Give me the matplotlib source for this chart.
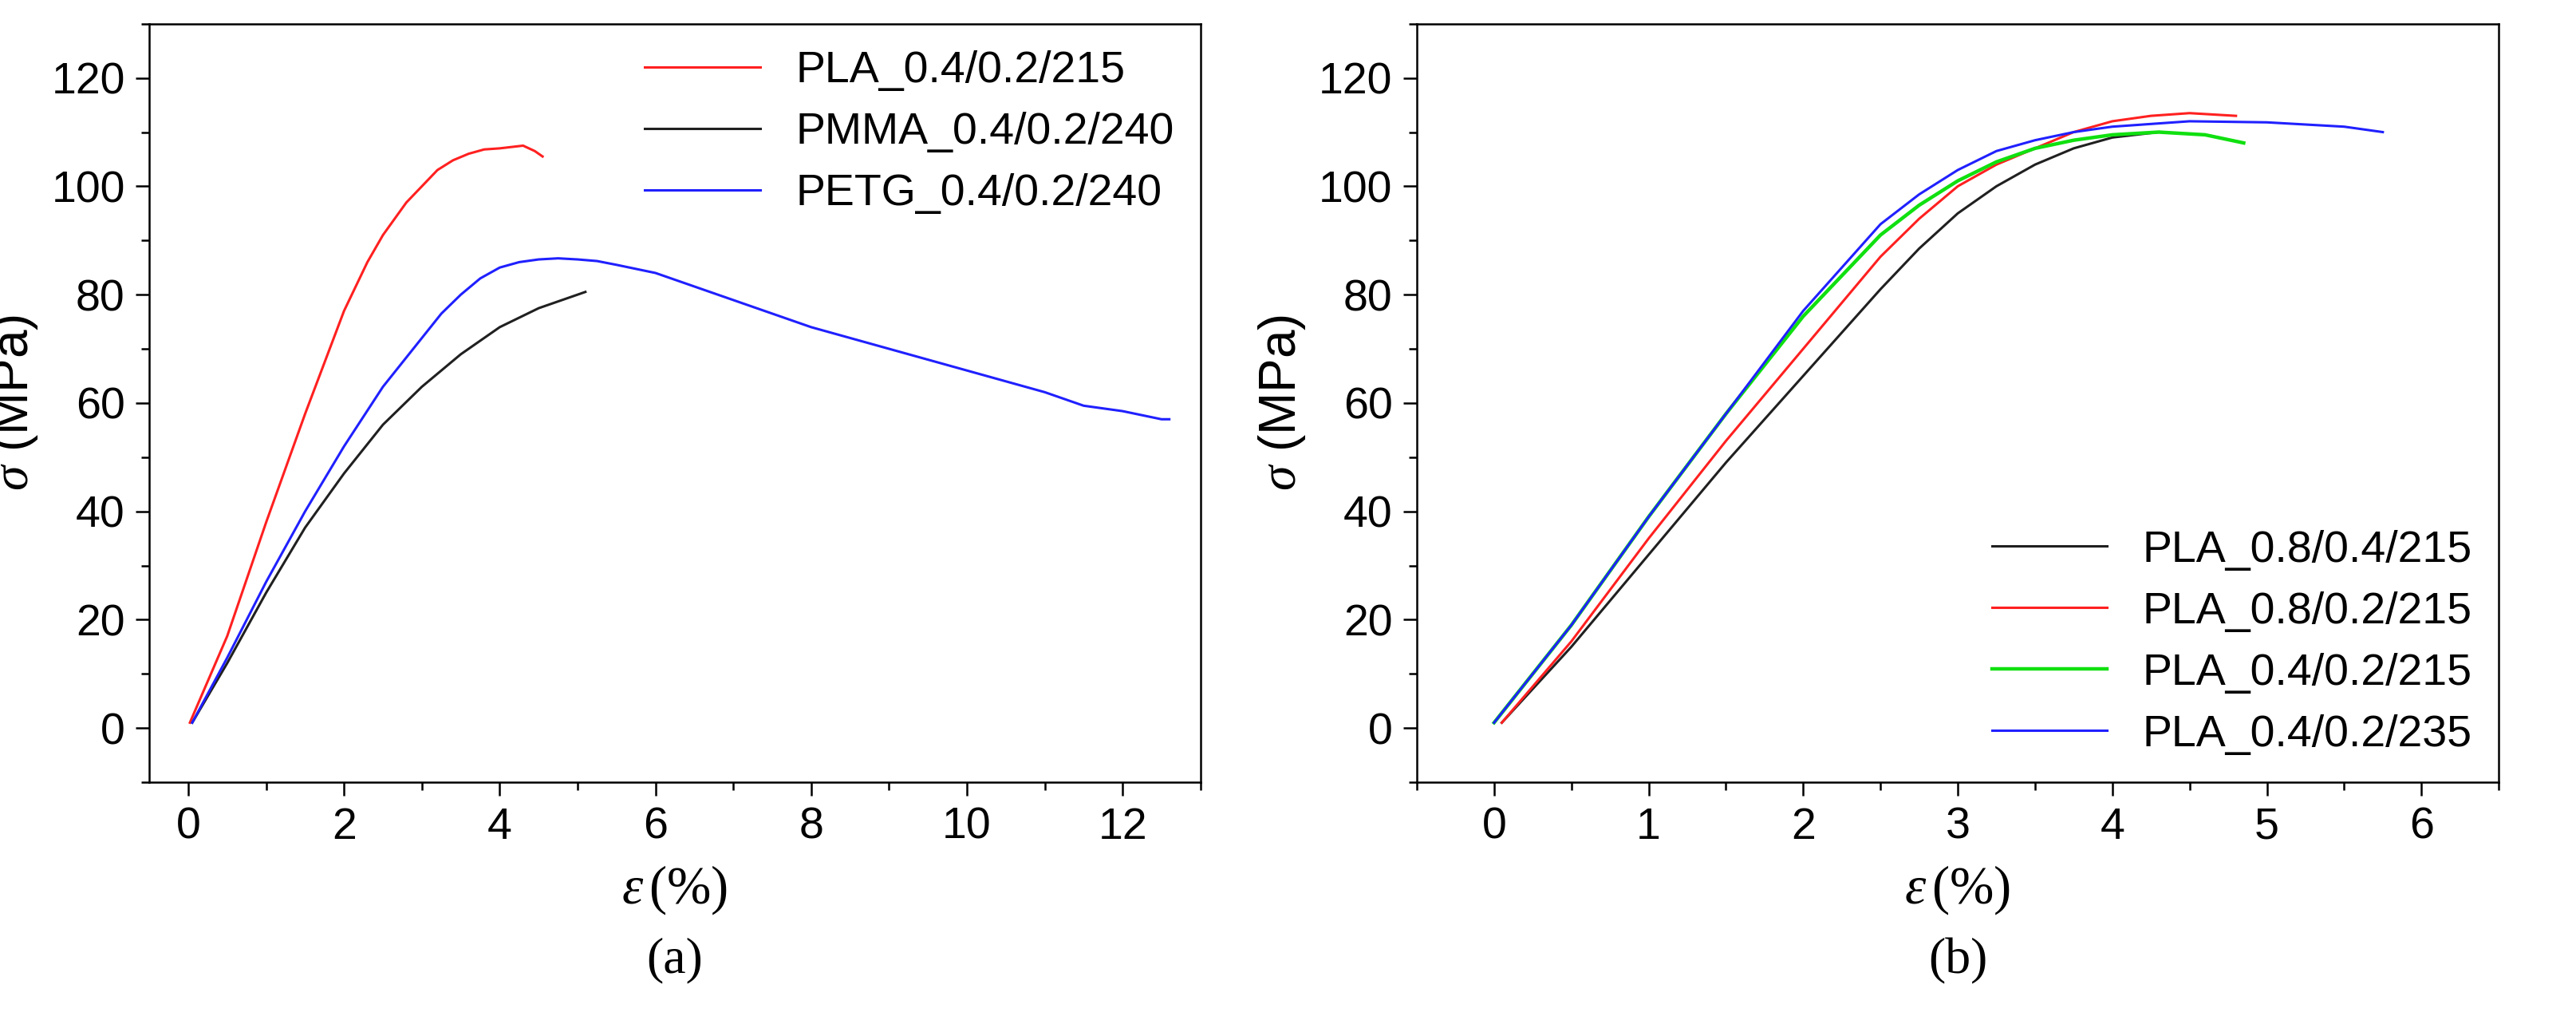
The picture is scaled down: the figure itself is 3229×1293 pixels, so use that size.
import matplotlib
matplotlib.use('Agg')
from matplotlib import pyplot as plt
from matplotlib.ticker import MultipleLocator

# (a) strain % / stress MPa
pla_a_x = [0.02, 0.5, 1.0, 1.5, 2.0, 2.3, 2.5, 2.8, 3.0, 3.2, 3.4, 3.6, 3.8, 4.0, 4.3, 4.45, 4.55]
pla_a_y = [1, 17, 38, 58, 77, 86, 91, 97, 100, 103, 104.8, 106, 106.8, 107, 107.5, 106.5, 105.5]
pmma_x = [0.05, 0.5, 1.0, 1.5, 2.0, 2.5, 3.0, 3.5, 4.0, 4.5, 5.1]
pmma_y = [1, 12, 25, 37, 47, 56, 63, 69, 74, 77.5, 80.5]
petg_x = [0.05, 0.5, 1.0, 1.5, 2.0, 2.5, 3.0, 3.25, 3.5, 3.75, 4.0, 4.25, 4.5, 4.75, 5.0, 5.25, 5.5, 6.0, 7.0, 8.0, 9.0, 10.0, 11.0, 11.5, 12.0, 12.5, 12.6]
petg_y = [1, 13, 27, 40, 52, 63, 72, 76.5, 80, 83, 85, 86, 86.5, 86.7, 86.5, 86.2, 85.5, 84, 79, 74, 70, 66, 62, 59.5, 58.5, 57, 57]

# (b)
b_black_x = [0.05, 0.5, 1.0, 1.5, 2.0, 2.5, 2.75, 3.0, 3.25, 3.5, 3.75, 4.0, 4.3]
b_black_y = [1, 15, 32, 49, 65, 81, 88.5, 95, 100, 104, 107, 109, 110]
b_red_x = [0.05, 0.5, 1.0, 1.5, 2.0, 2.5, 2.75, 3.0, 3.25, 3.5, 3.75, 4.0, 4.25, 4.5, 4.8]
b_red_y = [1, 16, 35, 53, 70, 87, 94, 100, 104, 107, 110, 112, 113, 113.5, 113]
b_green_x = [0.0, 0.5, 1.0, 1.5, 2.0, 2.5, 2.75, 3.0, 3.25, 3.5, 3.75, 4.0, 4.3, 4.6, 4.85]
b_green_y = [1, 19, 39, 58, 76, 91, 96.5, 101, 104.5, 107, 108.5, 109.5, 110, 109.5, 108]
b_blue_x = [0.0, 0.5, 1.0, 1.5, 2.0, 2.5, 2.75, 3.0, 3.25, 3.5, 3.75, 4.0, 4.5, 5.0, 5.5, 5.75]
b_blue_y = [1, 19, 39, 58, 77, 93, 98.5, 103, 106.5, 108.5, 110, 111, 112, 111.8, 111, 110]

plt.rcParams['font.family'] = ['Liberation Sans', 'DejaVu Sans']
plt.rcParams['mathtext.fontset'] = 'custom'
plt.rcParams['mathtext.it'] = 'Liberation Serif:italic'
plt.rcParams['mathtext.rm'] = 'Liberation Serif'

fig = plt.figure(figsize=(32.29, 12.93), dpi=100)
ax1 = fig.add_axes([0.058, 0.242, 0.408, 0.735])
ax2 = fig.add_axes([0.550, 0.242, 0.420, 0.735])

lw = 2.2
ax1.plot(pla_a_x, pla_a_y, color='#ff2020', lw=lw, label='PLA_0.4/0.2/215')
ax1.plot(pmma_x, pmma_y, color='#202020', lw=lw, label='PMMA_0.4/0.2/240')
ax1.plot(petg_x, petg_y, color='#2020ff', lw=lw, label='PETG_0.4/0.2/240')
ax1.set_xlim(-0.5, 13.0)
ax1.xaxis.set_major_locator(MultipleLocator(2))
ax1.xaxis.set_minor_locator(MultipleLocator(1))
ax1.legend(loc='upper right', frameon=False, fontsize=40, handlelength=2.6,
           borderaxespad=0.2, labelspacing=0.45)

ax2.plot(b_black_x, b_black_y, color='#202020', lw=lw, label='PLA_0.8/0.4/215')
ax2.plot(b_red_x, b_red_y, color='#ff2020', lw=lw, label='PLA_0.8/0.2/215')
ax2.plot(b_green_x, b_green_y, color='#10e010', lw=lw + 1, label='PLA_0.4/0.2/215')
ax2.plot(b_blue_x, b_blue_y, color='#2020ff', lw=lw, label='PLA_0.4/0.2/235')
ax2.set_xlim(-0.5, 6.5)
ax2.xaxis.set_major_locator(MultipleLocator(1))
ax2.xaxis.set_minor_locator(MultipleLocator(0.5))
ax2.legend(loc='lower right', frameon=False, fontsize=40, handlelength=2.6,
           borderaxespad=0.2, labelspacing=0.45)

for ax, tag in [(ax1, '(a)'), (ax2, '(b)')]:
    ax.set_ylim(-10, 130)
    ax.yaxis.set_major_locator(MultipleLocator(20))
    ax.yaxis.set_minor_locator(MultipleLocator(10))
    ax.tick_params(which='both', direction='out', top=False, right=False, labelsize=40, width=1.8)
    ax.tick_params(which='major', length=12, pad=10)
    ax.tick_params(which='minor', length=7)
    for s in ax.spines.values():
        s.set_linewidth(1.8)
    ax.set_ylabel(r'$\sigma$ (MPa)', fontsize=46, labelpad=10)
    ax.set_xlabel(r'$\varepsilon\,\mathrm{(\%)}$', fontsize=48, labelpad=14)
    ax.text(0.5, -0.205, tag, transform=ax.transAxes, ha='center', va='top',
            fontsize=46, family='Liberation Serif')

fig.savefig('out.png', dpi=100)
